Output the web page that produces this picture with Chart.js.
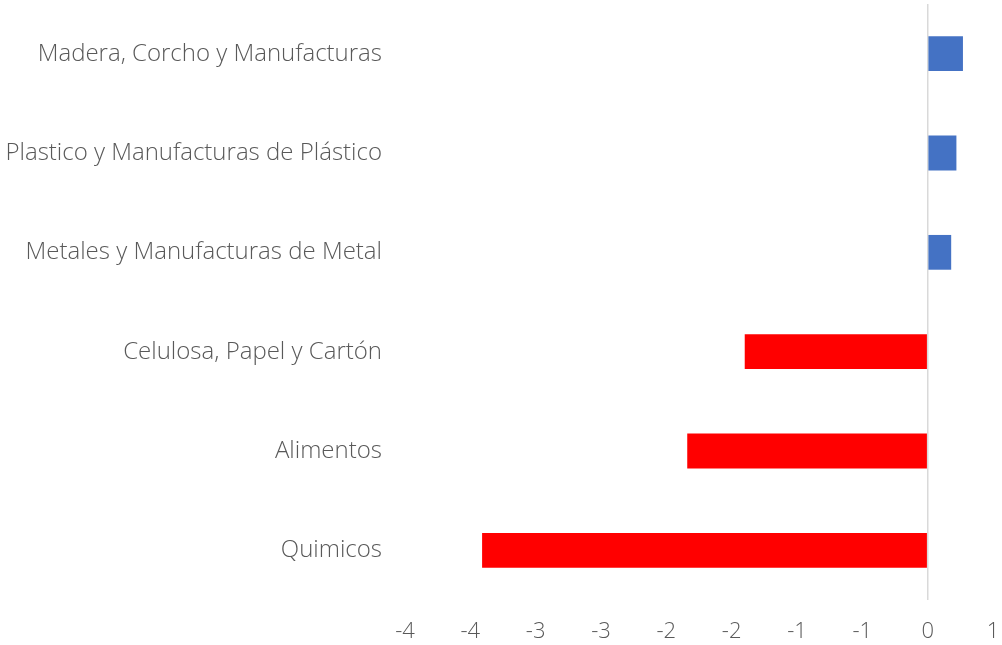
<!DOCTYPE html>
<html>
<head>
<meta charset="utf-8">
<script src="https://cdn.jsdelivr.net/npm/chart.js@4/dist/chart.umd.min.js"></script>
<style>
  html, body { margin: 0; padding: 0; background: #fff; }
  #wrap { width: 1002px; height: 645px; position: relative; }
</style>
</head>
<body>
<div id="wrap"><canvas id="barChart"></canvas></div>
<script>
let categories = ['Madera, Corcho y Manufacturas', 'Plastico y Manufacturas de Plástico', 'Metales y Manufacturas de Metal', 'Celulosa, Papel y Cartón', 'Alimentos', 'Quimicos'];
let values = [0.27, 0.22, 0.18, -1.40, -1.84, -3.41];
let tickLabels = ['-4', '-4', '-3', '-3', '-2', '-2', '-1', '-1', '0', '1'];

let textColor = '#595959';
let fontFamily = '"Open Sans", Lato, sans-serif';

const ctx = document.getElementById('barChart');
const barChart = new Chart(ctx, {
    type: 'bar',
    data: {
        labels: categories,
        datasets: [{
            label: 'Variación',
            data: values,
            backgroundColor: values.map(v => v < 0 ? '#FF0000' : '#4472C4'),
            barPercentage: 0.35,
            categoryPercentage: 1
        }]
    },
    options: {
        indexAxis: 'y',
        responsive: true,
        maintainAspectRatio: false,
        animation: false,
        layout: {
            padding: { top: 4, right: 9, left: 0, bottom: 0 }
        },
        plugins: {
            legend: { display: false },
            tooltip: { enabled: false }
        },
        scales: {
            x: {
                min: -4,
                max: 0.5,
                border: { display: false },
                grid: {
                    drawTicks: false,
                    lineWidth: 1.5,
                    color: (c) => c.tick && c.tick.value === 0 ? '#D9D9D9' : 'rgba(0,0,0,0)'
                },
                ticks: {
                    stepSize: 0.5,
                    padding: 19,
                    color: textColor,
                    font: { family: fontFamily, size: 22, weight: 300 },
                    callback: function (value, index) {
                        return tickLabels[index];
                    }
                },
                afterFit: (scale) => {
                    scale.height = 45;
                    scale.paddingLeft = 0;
                    scale.paddingRight = 0;
                }
            },
            y: {
                border: { display: false },
                grid: { display: false },
                ticks: {
                    padding: 15,
                    color: textColor,
                    font: { family: fontFamily, size: 24, weight: 300 }
                },
                afterFit: (scale) => {
                    scale.width = 405;
                    scale.paddingTop = 0;
                    scale.paddingBottom = 0;
                }
            }
        }
    }
});
</script>
</body>
</html>
